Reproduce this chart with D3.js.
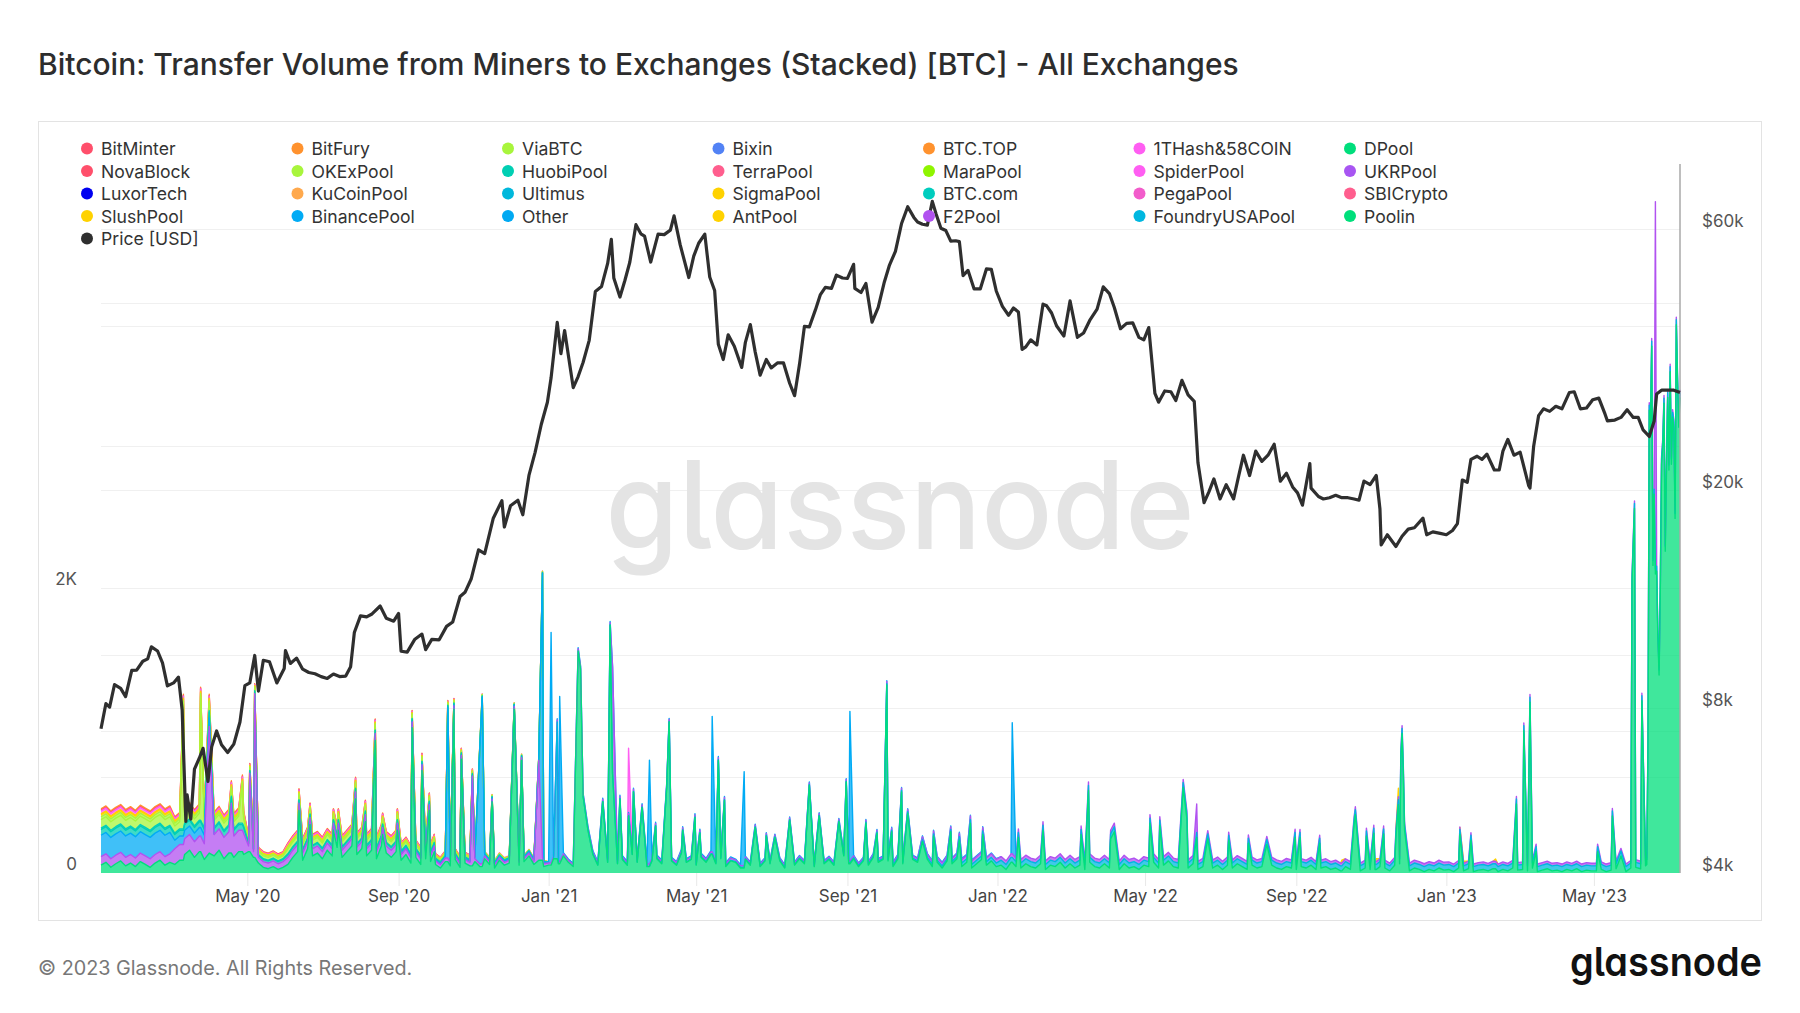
<!DOCTYPE html>
<html>
<head>
<meta charset="utf-8">
<script src="https://cdn.jsdelivr.net/npm/d3@7"></script>
<style>
  html, body { margin: 0; padding: 0; background: #fff; }
  svg { display: block; font-family: Inter, "Noto Sans", sans-serif; }
  .brand { font-family: Inter, sans-serif; font-feature-settings: "cv11" 1, "ss02" 1; }
</style>
</head>
<body>
<svg id="chart" width="1800" height="1013"></svg>
<script>
const PLOT = {left: 101, right: 1680, top: 161, bottom: 873};

// legend, row by row
const poolNames = [
  "BitMinter", "BitFury", "ViaBTC", "Bixin", "BTC.TOP", "1THash&58COIN", "DPool",
  "NovaBlock", "OKExPool", "HuobiPool", "TerraPool", "MaraPool", "SpiderPool", "UKRPool",
  "LuxorTech", "KuCoinPool", "Ultimus", "SigmaPool", "BTC.com", "PegaPool", "SBICrypto",
  "SlushPool", "BinancePool", "Other", "AntPool", "F2Pool", "FoundryUSAPool", "Poolin"
];
const poolColors = [
  "#ff4f6b", "#ff922e", "#a8f53c", "#5282f5", "#ff922e", "#ff5ef2", "#00de7c",
  "#ff4f6b", "#a8f53c", "#00cfb3", "#ff5e8e", "#8ff500", "#ff5ef2", "#a855f2",
  "#0000f0", "#ffa94d", "#00b8dc", "#ffd200", "#00cdbe", "#f25ccb", "#ff5e8e",
  "#ffd200", "#00abf5", "#00a9f2", "#ffd200", "#b152f0", "#00b7e0", "#00df7b"
];

// bottom of the stack first
const stackOrder = [
  "Poolin", "FoundryUSAPool", "F2Pool", "UKRPool", "BinancePool", "Other",
  "HuobiPool", "BTC.com", "OKExPool", "ViaBTC", "MaraPool", "AntPool", "SlushPool", "SigmaPool",
  "1THash&58COIN", "SpiderPool", "PegaPool", "TerraPool", "SBICrypto", "BitMinter", "NovaBlock",
  "BTC.TOP", "BitFury", "KuCoinPool", "Ultimus", "LuxorTech", "Bixin", "DPool"
];

// Poolin, one reading every 4 days from 2020-01-03 (spikes listed apart)
const poolinEvery4Days = [
  55,75,40,65,85,50,70,45,  80,60,40,70,90,55,75,  60,90,130,160,110,150,95,140,
  120,160,100,140,110,150,130,  150,110,70,40,30,45,25,40,  60,110,150,90,170,120,140,
  100,160,120,180,110,150,190,130,  170,120,160,100,190,140,110,150,  90,130,70,110,60,100,80,
  60,35,80,50,95,40,70,50,  80,45,100,60,35,90,55,70,  100,55,80,120,60,90,45,
  55,100,65,120,75,45,95,65,  85,130,55,100,75,140,65,  95,55,130,75,110,45,85,100,
  65,120,85,55,140,75,95,  55,110,75,130,65,100,45,85,  75,35,95,55,110,45,85,65,
  45,85,35,75,55,100,65,  85,45,110,65,95,55,75,120,  65,100,45,85,55,110,75,95,
  85,45,100,65,55,95,75,  55,95,45,75,35,85,65,100,  45,75,35,65,95,55,85,45,
  55,25,75,45,35,65,45,  35,65,25,55,45,75,35,  65,35,55,25,75,45,35,65,
  35,55,25,65,35,45,25,55,  45,75,35,55,85,45,35,  55,35,65,25,45,75,35,55,
  25,55,35,65,45,25,55,35,  45,25,55,35,25,45,35,  25,45,35,55,25,35,45,25,
  35,15,45,25,55,15,35,25,  25,45,35,15,55,65,25,  15,35,25,10,25,15,35,20,
  25,10,35,15,30,10,20,25,  15,30,10,25,15,35,20,  25,15,35,10,20,30,15,
  20,10,25,15,30,10,20,15,  15,25,10,20,30,15,10,35,  40,30,50
];

// Poolin, daily from 2023-06-13
const poolinDailyJune2023 = [
  60,900,3250,3130,3700,2160,2660,2100,2120,1650,1390,1990,2870,3000,3300,2260,2830,3340,
  2830,3520,2870,3200,3130,2490,3850,3440,3130,3340
];

// monthly levels from Jan 2020 (missing months = 0)
const f2poolMonthly = [60,60,110,150,40,50,50,50,40,25,20,20, 15,15,15,15,15,12,12,12,12,15,20,25,
  25,25,25,25,25,22,22,22,20,20,20,20, 18,18,18,18,18,18,18];
const foundryMonthly = [0,0,0,0,0,0,0,0,0,0,0,0, 0,3,3,3,5,5,5,5,8,10,15,25,
  35,35,35,35,35,35,35,35,35,35,35,35, 35,35,35,35,35,35,35];
const binanceMonthly = [150,150,60,0,0,0,0,0,5,5,8,10, 8,8,8,8,8,6,6,6,6,6,6,6];
const huobiMonthly = [40,40,40,40,15,20,20,20,15,10,6,4];
const btccomMonthly = [10,10,10,10,5,5,5,5,5,4,3,2];
const okexMonthly = [60,60,50,50,20,35,35,35,25,12,6,4];
const viabtcMonthly = [20,20,20,15,8,10,10,10,8,5,3,2];
const antpoolMonthly = [15,15,12,10,6,8,8,8,6,4,3,2];
const slushMonthly = [5,5,5,5,3,3,3,3,3,2];
const onethashMonthly = [20,20,15,15,6,12,12,12,8,5,3,2];
const btctopMonthly = [10,10,8,8,4,5,5,5,4,2];
const bitminterMonthly = [6,6,5,5,3,4,4,4,3,2];

const spikes = [
  ["2020-03-10","OKExPool",880], ["2020-03-24","OKExPool",870], ["2020-03-31","F2Pool",890],
  ["2020-04-18","F2Pool",350], ["2020-04-27","OKExPool",280], ["2020-05-03","F2Pool",550],
  ["2020-05-07","F2Pool",1150], ["2020-06-12","Poolin",440], ["2020-06-21","Poolin",340],
  ["2020-07-10","Poolin",300], ["2020-07-14","Poolin",300], ["2020-07-28","Poolin",520],
  ["2020-08-05","Poolin",360], ["2020-08-13","Poolin",930], ["2020-08-19","Poolin",270],
  ["2020-08-31","Poolin",300], ["2020-09-12","Poolin",1020], ["2020-09-20","Poolin",720],
  ["2020-09-26","Poolin",440], ["2020-09-30","Poolin",150],
  ["2020-10-11","BinancePool",1060], ["2020-10-16","Poolin",1150], ["2020-10-22","Poolin",800],
  ["2020-10-31","F2Pool",630], ["2020-11-06","BinancePool",800], ["2020-11-08","BinancePool",1170],
  ["2020-11-16","Poolin",500], ["2020-12-04","Poolin",1150], ["2020-12-10","Poolin",790],
  ["2020-12-24","F2Pool",700], ["2020-12-27","BinancePool",1995],
  ["2021-01-03","BinancePool",1620], ["2021-01-08","FoundryUSAPool",960], ["2021-01-10","BinancePool",1160],
  ["2021-01-25","Poolin",1560], ["2021-01-27","Poolin",1430], ["2021-01-29","Poolin",540],
  ["2021-02-02","Poolin",300], ["2021-02-14","Poolin",500], ["2021-02-20","Poolin",1740],
  ["2021-02-22","Poolin",700], ["2021-02-22","F2Pool",740], ["2021-02-28","Poolin",520],
  ["2021-03-07","Poolin",400], ["2021-03-07","1THash&58COIN",450], ["2021-03-11","Poolin",570],
  ["2021-03-18","Poolin",460], ["2021-03-24","BinancePool",730], ["2021-03-29","Poolin",330],
  ["2021-04-07","Poolin",600], ["2021-04-09","Poolin",1060], ["2021-04-20","Poolin",300],
  ["2021-04-30","Poolin",390], ["2021-05-04","Poolin",280], ["2021-05-14","BinancePool",950],
  ["2021-05-19","Poolin",790], ["2021-05-24","Poolin",510], ["2021-06-09","BinancePool",660],
  ["2021-06-18","Poolin",320], ["2021-06-27","Poolin",260], ["2021-07-04","Poolin",250],
  ["2021-07-16","Poolin",370], ["2021-08-01","Poolin",616], ["2021-08-09","Poolin",400],
  ["2021-08-25","Poolin",360], ["2021-08-31","Poolin",640], ["2021-09-03","BinancePool",1050],
  ["2021-09-16","Poolin",350], ["2021-09-25","Poolin",280], ["2021-10-03","Poolin",1320],
  ["2021-10-07","Poolin",290], ["2021-10-15","Poolin",570], ["2021-10-20","Poolin",420],
  ["2021-11-01","Poolin",220], ["2021-11-10","Poolin",260], ["2021-11-24","Poolin",290],
  ["2021-12-01","Poolin",230], ["2021-12-10","Poolin",350], ["2021-12-20","Poolin",270],
  ["2022-01-13","Other",920], ["2022-01-18","Poolin",250], ["2022-02-07","Poolin",300],
  ["2022-03-10","Poolin",270], ["2022-03-16","Poolin",580], ["2022-04-03","Poolin",240],
  ["2022-04-06","Poolin",290], ["2022-05-05","Poolin",350], ["2022-05-13","Poolin",335],
  ["2022-06-01","Poolin",600], ["2022-06-04","Poolin",380], ["2022-06-12","Poolin",250],
  ["2022-06-12","F2Pool",200], ["2022-06-21","Poolin",240], ["2022-07-08","Poolin",230],
  ["2022-07-24","Poolin",210], ["2022-08-08","Poolin",200], ["2022-08-31","Poolin",250],
  ["2022-09-04","Poolin",250], ["2022-09-20","Poolin",210], ["2022-10-08","AntPool",20],
  ["2022-10-18","Poolin",340], ["2022-10-19","Poolin",410], ["2022-10-28","Poolin",260],
  ["2022-11-03","Poolin",280], ["2022-11-05","AntPool",20], ["2022-11-11","Poolin",275],
  ["2022-11-21","Poolin",250], ["2022-11-23","Poolin",480], ["2022-11-23","AntPool",60],
  ["2022-11-25","Poolin",800], ["2022-11-26","Poolin",980], ["2022-11-27","Poolin",700],
  ["2022-11-28","Poolin",300],
  ["2023-01-12","Poolin",270], ["2023-01-15","AntPool",15], ["2023-01-21","Poolin",230],
  ["2023-02-10","AntPool",15], ["2023-02-27","Poolin",485], ["2023-03-05","Poolin",1000],
  ["2023-03-10","Poolin",1200], ["2023-03-15","Poolin",150], ["2023-05-04","Poolin",150],
  ["2023-05-16","Poolin",400], ["2023-05-23","Poolin",120], ["2023-06-01","Poolin",2040],
  ["2023-06-03","Poolin",2560], ["2023-06-09","Poolin",1210], ["2023-06-20","F2Pool",2580]
];

const priceUsd = [
  ["2020-01-03",7340],["2020-01-07",8160],["2020-01-10",8040],["2020-01-14",8840],["2020-01-19",8700],
  ["2020-01-23",8400],["2020-01-28",9380],["2020-02-01",9390],["2020-02-06",9750],["2020-02-10",9850],
  ["2020-02-13",10360],["2020-02-18",10180],["2020-02-22",9680],["2020-02-26",8790],["2020-03-02",8900],
  ["2020-03-06",9120],["2020-03-09",7940],["2020-03-12",4970],["2020-03-13",5560],["2020-03-16",5020],
  ["2020-03-19",6190],["2020-03-23",6490],["2020-03-26",6760],["2020-03-30",5880],["2020-04-02",6800],
  ["2020-04-06",7270],["2020-04-10",6860],["2020-04-15",6640],["2020-04-20",6880],["2020-04-25",7550],
  ["2020-04-29",8800],["2020-05-03",8900],["2020-05-07",9990],["2020-05-10",8600],["2020-05-14",9790],
  ["2020-05-19",9730],["2020-05-25",8900],["2020-05-31",9460],["2020-06-01",10200],["2020-06-05",9660],
  ["2020-06-10",9880],["2020-06-15",9430],["2020-06-20",9300],["2020-06-25",9250],["2020-06-30",9140],
  ["2020-07-05",9070],["2020-07-10",9240],["2020-07-15",9140],["2020-07-20",9160],["2020-07-24",9530],
  ["2020-07-27",11000],["2020-08-01",11800],["2020-08-06",11750],["2020-08-10",11880],["2020-08-17",12300],
  ["2020-08-22",11680],["2020-08-28",11540],["2020-09-01",11920],["2020-09-03",10170],["2020-09-08",10130],
  ["2020-09-14",10680],["2020-09-20",10930],["2020-09-23",10240],["2020-09-28",10690],["2020-10-04",10670],
  ["2020-10-10",11290],["2020-10-15",11500],["2020-10-21",12800],["2020-10-25",13030],["2020-10-30",13780],
  ["2020-11-05",15580],["2020-11-10",15330],["2020-11-17",17800],["2020-11-24",19160],["2020-11-26",17150],
  ["2020-12-01",18760],["2020-12-07",19190],["2020-12-11",18060],["2020-12-16",21310],["2020-12-21",23480],
  ["2020-12-26",26400],["2020-12-31",28990],
  ["2021-01-03",32130],["2021-01-08",40580],["2021-01-11",35570],["2021-01-14",39190],["2021-01-21",30830],
  ["2021-01-25",32300],["2021-01-29",34270],["2021-02-03",37620],["2021-02-08",46200],["2021-02-13",47170],
  ["2021-02-18",52000],["2021-02-21",57540],["2021-02-23",48900],["2021-02-28",45140],["2021-03-04",48380],
  ["2021-03-08",52250],["2021-03-13",61200],["2021-03-17",58900],["2021-03-20",58330],["2021-03-25",52300],
  ["2021-03-31",58800],["2021-04-05",58700],["2021-04-10",59800],["2021-04-13",63500],["2021-04-18",56200],
  ["2021-04-25",49000],["2021-04-29",53600],["2021-05-03",56600],["2021-05-08",58800],["2021-05-12",49100],
  ["2021-05-16",46400],["2021-05-19",37000],["2021-05-23",34700],["2021-05-27",38500],["2021-06-01",36690],
  ["2021-06-07",33560],["2021-06-10",37300],["2021-06-14",40200],["2021-06-18",35800],["2021-06-22",32500],
  ["2021-06-27",34700],["2021-07-01",33500],["2021-07-06",34200],["2021-07-11",34200],["2021-07-16",31400],
  ["2021-07-20",29800],["2021-07-24",34000],["2021-07-28",39900],["2021-08-01",39800],["2021-08-06",42800],
  ["2021-08-10",45600],["2021-08-14",47000],["2021-08-19",46800],["2021-08-23",49500],["2021-08-28",48900],
  ["2021-09-01",48800],["2021-09-06",51800],["2021-09-07",46800],["2021-09-12",46000],["2021-09-16",47800],
  ["2021-09-21",40600],["2021-09-26",43200],["2021-10-01",48100],["2021-10-05",51500],["2021-10-10",54700],
  ["2021-10-15",61500],["2021-10-20",66000],["2021-10-25",63100],["2021-10-28",61900],["2021-11-01",61300],
  ["2021-11-05",61100],["2021-11-09",67500],["2021-11-12",64100],["2021-11-16",60300],["2021-11-20",59700],
  ["2021-11-24",57100],["2021-11-28",57200],["2021-12-01",57000],["2021-12-04",49400],["2021-12-08",50500],
  ["2021-12-13",46700],["2021-12-18",46700],["2021-12-23",50800],["2021-12-27",50700],["2021-12-31",46300],
  ["2022-01-05",43400],["2022-01-10",41800],["2022-01-14",43100],["2022-01-18",42400],["2022-01-21",36200],
  ["2022-01-24",36600],["2022-01-28",37700],["2022-02-02",36900],["2022-02-07",43800],["2022-02-10",43500],
  ["2022-02-14",42200],["2022-02-18",40000],["2022-02-24",38300],["2022-03-01",44400],["2022-03-07",38100],
  ["2022-03-12",38800],["2022-03-17",40900],["2022-03-23",42900],["2022-03-28",47100],["2022-04-02",45800],
  ["2022-04-06",43200],["2022-04-11",39500],["2022-04-16",40400],["2022-04-21",40500],["2022-04-26",38100],
  ["2022-04-30",37700],["2022-05-04",39700],["2022-05-09",30100],["2022-05-12",29000],["2022-05-17",30400],
  ["2022-05-22",30300],["2022-05-26",29200],["2022-05-31",31800],["2022-06-05",29900],["2022-06-10",29100],
  ["2022-06-13",22500],["2022-06-18",19000],["2022-06-22",19900],["2022-06-26",21000],["2022-07-01",19300],
  ["2022-07-06",20500],["2022-07-12",19300],["2022-07-16",21200],["2022-07-20",23200],["2022-07-25",21300],
  ["2022-07-30",23600],["2022-08-04",22600],["2022-08-09",23200],["2022-08-14",24300],["2022-08-19",20800],
  ["2022-08-24",21500],["2022-08-29",20300],["2022-09-02",19800],["2022-09-06",18800],["2022-09-12",22400],
  ["2022-09-13",20200],["2022-09-19",19500],["2022-09-23",19300],["2022-09-28",19400],["2022-10-03",19600],
  ["2022-10-08",19400],["2022-10-13",19400],["2022-10-18",19300],["2022-10-22",19200],["2022-10-26",20800],
  ["2022-10-31",20500],["2022-11-05",21300],["2022-11-08",18500],["2022-11-09",15900],["2022-11-14",16600],
  ["2022-11-21",15800],["2022-11-26",16500],["2022-12-01",17000],["2022-12-06",17100],["2022-12-13",17800],
  ["2022-12-16",16600],["2022-12-21",16800],["2022-12-27",16700],
  ["2023-01-01",16600],["2023-01-06",16900],["2023-01-10",17400],["2023-01-14",20900],["2023-01-18",20700],
  ["2023-01-21",22800],["2023-01-26",23100],["2023-01-30",22800],["2023-02-03",23300],["2023-02-09",21800],
  ["2023-02-13",21800],["2023-02-16",23600],["2023-02-20",24800],["2023-02-25",23200],["2023-03-02",23500],
  ["2023-03-09",20400],["2023-03-10",20200],["2023-03-13",24100],["2023-03-17",27400],["2023-03-21",28200],
  ["2023-03-26",27900],["2023-03-31",28500],["2023-04-05",28200],["2023-04-11",30200],["2023-04-15",30300],
  ["2023-04-20",28200],["2023-04-25",28300],["2023-04-30",29300],["2023-05-05",29500],["2023-05-10",27600],
  ["2023-05-12",26800],["2023-05-18",26900],["2023-05-23",27200],["2023-05-28",28100],["2023-06-02",27200],
  ["2023-06-06",27200],["2023-06-10",25800],["2023-06-15",25100],["2023-06-19",26800],["2023-06-21",30000],
  ["2023-06-25",30500],["2023-06-30",30500],["2023-07-05",30500],["2023-07-10",30200]
];

const volumeTicks = [0, 2000];
const volumeGrid = [1000, 2000, 3000, 4000];
const priceTicks = [4000, 8000, 20000, 60000];
const priceGrid = [6000, 8000, 10000, 20000, 40000, 60000];

const monthlyByPool = {
  "F2Pool": f2poolMonthly, "FoundryUSAPool": foundryMonthly, "BinancePool": binanceMonthly,
  "HuobiPool": huobiMonthly, "BTC.com": btccomMonthly, "OKExPool": okexMonthly,
  "ViaBTC": viabtcMonthly, "AntPool": antpoolMonthly, "SlushPool": slushMonthly,
  "1THash&58COIN": onethashMonthly, "BTC.TOP": btctopMonthly, "BitMinter": bitminterMonthly
};

const parseDay = d3.utcParse("%Y-%m-%d");
const gridStart = parseDay("2020-01-03");
const monthIndex = t => (t.getUTCFullYear() - 2020) * 12 + t.getUTCMonth();
const colorOf = name => poolColors[poolNames.indexOf(name)];

// explicit day readings
const overrides = new Map();
function setReading(t, name, v) {
  if (!overrides.has(+t)) overrides.set(+t, {});
  overrides.get(+t)[name] = v;
}
spikes.forEach(([d, name, v]) => setReading(parseDay(d), name, v));
poolinDailyJune2023.forEach((v, i) => setReading(d3.utcDay.offset(parseDay("2023-06-13"), i), "Poolin", v));

const times = new Set();
poolinEvery4Days.forEach((v, i) => times.add(+d3.utcDay.offset(gridStart, 4 * i)));
overrides.forEach((_, t) => times.add(t));

const rows = Array.from(times).sort(d3.ascending).map(t => {
  const date = new Date(t);
  const m = monthIndex(date);
  const row = {date};
  stackOrder.forEach(name => {
    const monthly = monthlyByPool[name];
    row[name] = monthly ? (monthly[m] || 0) : 0;
  });
  const gi = Math.floor(d3.utcDay.count(gridStart, date) / 4);
  row.Poolin = poolinEvery4Days[Math.min(gi, poolinEvery4Days.length - 1)];
  if (overrides.has(t)) Object.assign(row, overrides.get(t));
  return row;
});

const series = d3.stack().keys(stackOrder)(rows);

const x = d3.scaleUtc()
  .domain([parseDay("2020-01-03"), parseDay("2023-07-10")])
  .range([PLOT.left, PLOT.right]);
const yVol = d3.scaleLinear().domain([0, 5000]).range([PLOT.bottom, PLOT.top]);
const yPrice = d3.scaleLog().domain([4000, 80000]).range([PLOT.bottom, PLOT.top]);

const svg = d3.select("#chart");

svg.append("text")
  .attr("x", 38).attr("y", 64)
  .attr("dominant-baseline", "central")
  .attr("font-size", 30).attr("font-weight", 500)
  .attr("fill", "#2d2d2d")
  .text("Bitcoin: Transfer Volume from Miners to Exchanges (Stacked) [BTC] - All Exchanges");

svg.append("rect")
  .attr("x", 38.5).attr("y", 121.5).attr("width", 1723).attr("height", 799)
  .attr("fill", "#fff").attr("stroke", "#e3e3e3");

// grid
const grid = svg.append("g").attr("stroke", "#f0f0f0").attr("stroke-width", 1);
grid.selectAll("line.v").data(volumeGrid).join("line")
  .attr("x1", PLOT.left).attr("x2", PLOT.right)
  .attr("y1", d => Math.round(yVol(d)) + 0.5).attr("y2", d => Math.round(yVol(d)) + 0.5);
grid.selectAll("line.p").data(priceGrid).join("line")
  .attr("x1", PLOT.left).attr("x2", PLOT.right)
  .attr("y1", d => Math.round(yPrice(d)) + 0.5).attr("y2", d => Math.round(yPrice(d)) + 0.5);

// watermark
svg.append("text")
  .attr("class", "brand")
  .attr("x", 900).attr("y", 549)
  .attr("text-anchor", "middle")
  .attr("font-weight", 500)
  .attr("font-size", 122).attr("fill", "#e4e4e4")
  .attr("textLength", 589).attr("lengthAdjust", "spacingAndGlyphs")
  .text("glassnode");

// stacked areas: fills, then top lines from the highest layer down so Poolin's line ends on top
const area = d3.area()
  .x(d => x(d.data.date))
  .y0(d => yVol(d[0]))
  .y1(d => yVol(d[1]));

const hasValue = d => d && d[1] - d[0] > 0;
const topLine = d3.line()
  .defined((d, i, arr) => hasValue(d) || hasValue(arr[i - 1]) || hasValue(arr[i + 1]))
  .x(d => x(d.data.date))
  .y(d => yVol(d[1]));

const drawn = series.filter(s => s.some(hasValue));
const fills = svg.append("g");
drawn.forEach(s => {
  fills.append("path").attr("d", area(s)).attr("fill", colorOf(s.key)).attr("fill-opacity", 0.75);
});
const lines = svg.append("g");
drawn.slice().reverse().forEach(s => {
  lines.append("path").attr("d", topLine(s)).attr("fill", "none")
    .attr("stroke", colorOf(s.key)).attr("stroke-width", 1.4).attr("stroke-linejoin", "round");
});

// last-value marker
svg.append("line")
  .attr("x1", PLOT.right).attr("x2", PLOT.right)
  .attr("y1", PLOT.top + 3).attr("y2", PLOT.bottom)
  .attr("stroke", "#a8a8a8").attr("stroke-width", 1.5);

// price
const priceLine = d3.line()
  .x(d => x(parseDay(d[0])))
  .y(d => yPrice(d[1]));
svg.append("path")
  .attr("d", priceLine(priceUsd))
  .attr("fill", "none").attr("stroke", "#2f2f2f")
  .attr("stroke-width", 3.2).attr("stroke-linejoin", "round");

// x axis
const xAxis = svg.append("g")
  .attr("transform", `translate(0,${PLOT.bottom})`)
  .call(d3.axisBottom(x)
    .ticks(d3.utcMonth.every(4))
    .tickFormat(d3.utcFormat("%b '%y"))
    .tickSize(13).tickPadding(4));
xAxis.select(".domain").remove();
xAxis.selectAll(".tick line").attr("stroke", "#e8e8e8");
xAxis.selectAll(".tick text").attr("font-size", 17).attr("fill", "#444").attr("font-family", "Inter, sans-serif");

// left axis
svg.append("g").selectAll("text").data(volumeTicks).join("text")
  .attr("x", 77).attr("y", d => yVol(d) - 9)
  .attr("text-anchor", "end").attr("dominant-baseline", "central")
  .attr("font-size", 17).attr("fill", "#555")
  .text(d => d === 0 ? "0" : d / 1000 + "K");

// right axis
svg.append("g").selectAll("text").data(priceTicks).join("text")
  .attr("x", 1702).attr("y", d => yPrice(d) - 8)
  .attr("dominant-baseline", "central")
  .attr("font-size", 17).attr("fill", "#555")
  .text(d => "$" + d / 1000 + "k");

// legend
const legendItems = poolNames.map((n, i) => ({name: n, color: poolColors[i]}))
  .concat([{name: "Price [USD]", color: "#2f2f2f"}]);
const legend = svg.append("g").selectAll("g").data(legendItems).join("g")
  .attr("transform", (d, i) => `translate(${87 + (i % 7) * 210.5},${148.5 + Math.floor(i / 7) * 22.5})`);
legend.append("circle").attr("r", 6).attr("fill", d => d.color);
legend.append("text")
  .attr("x", 14).attr("dominant-baseline", "central")
  .attr("font-size", 17.6).attr("fill", "#333")
  .text(d => d.name);

// footer
svg.append("text")
  .attr("x", 38).attr("y", 968).attr("dominant-baseline", "central")
  .attr("font-size", 19.8).attr("fill", "#777")
  .text("© 2023 Glassnode. All Rights Reserved.");

svg.append("text")
  .attr("class", "brand")
  .attr("x", 1762).attr("y", 976).attr("text-anchor", "end")
  .attr("font-weight", 600)
  .attr("font-size", 40).attr("fill", "#111")
  .attr("textLength", 192).attr("lengthAdjust", "spacingAndGlyphs")
  .text("glassnode");
</script>
</body>
</html>
